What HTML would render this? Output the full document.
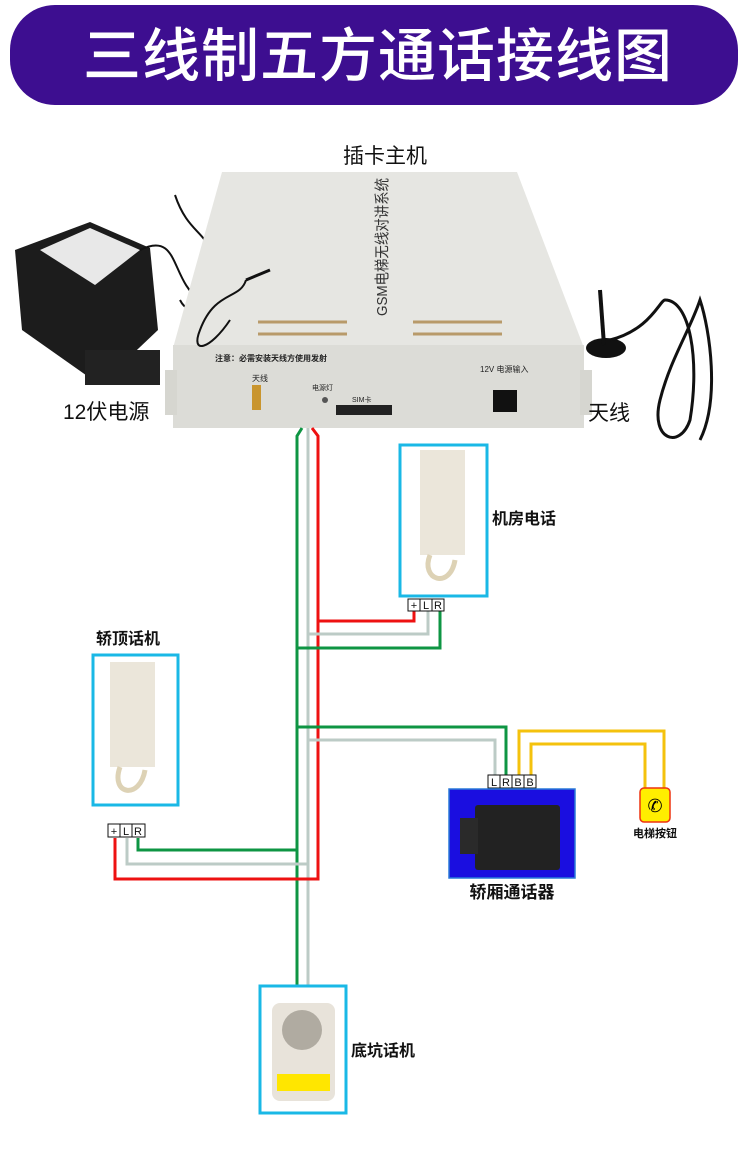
<!DOCTYPE html>
<html><head><meta charset="utf-8"><style>
html,body{margin:0;padding:0;background:#fff;}
svg{display:block;font-family:"Liberation Sans","Noto Sans CJK SC",sans-serif;}
.b{font-weight:bold;}
</style></head><body>
<svg width="750" height="1159" viewBox="0 0 750 1159" xmlns="http://www.w3.org/2000/svg">
<rect x="0" y="0" width="750" height="1159" fill="#fff"/>
<!-- banner -->
<rect x="10" y="5" width="728" height="100" rx="45" fill="#3d0e90"/>
<text x="378" y="76" text-anchor="middle" font-size="58" fill="#fff" font-weight="500" font-family="Noto Sans CJK SC,sans-serif" letter-spacing="1">三线制五方通话接线图</text>

<text x="385" y="163" text-anchor="middle" font-size="21" fill="#111">插卡主机</text>

<!-- power supply -->
<polygon points="15,250 90,222 150,248 158,330 100,385 22,330" fill="#1c1c1c"/>
<polygon points="40,250 90,228 140,250 95,285" fill="#e8e8e8"/>
<rect x="85" y="350" width="75" height="35" fill="#222"/>
<path d="M140,250 C180,230 170,280 200,300 C230,320 260,280 270,270" stroke="#111" stroke-width="2" fill="none"/>
<path d="M175,195 C190,240 215,230 210,270 C205,300 190,320 180,300" stroke="#111" stroke-width="2" fill="none"/>
<text x="63" y="419" font-size="21" fill="#111">12伏电源</text>

<!-- main device -->
<polygon points="222,172 517,172 584,348 173,348" fill="#e6e6e2"/>
<rect x="173" y="345" width="411" height="83" fill="#dcdcd7"/>
<rect x="165" y="370" width="12" height="45" fill="#d6d6d0"/>
<rect x="580" y="370" width="12" height="45" fill="#d6d6d0"/>
<line x1="258" y1="322" x2="347" y2="322" stroke="#b89a6a" stroke-width="3"/>
<line x1="258" y1="334" x2="347" y2="334" stroke="#b89a6a" stroke-width="3"/>
<line x1="413" y1="322" x2="502" y2="322" stroke="#b89a6a" stroke-width="3"/>
<line x1="413" y1="334" x2="502" y2="334" stroke="#b89a6a" stroke-width="3"/>
<text transform="translate(387,316) rotate(-90)" font-size="15" fill="#333" textLength="138" lengthAdjust="spacingAndGlyphs">GSM电梯无线对讲系统</text>
<text x="215" y="361" font-size="8" fill="#222" class="b">注意：必需安装天线方使用发射</text>
<text x="252" y="381" font-size="8" fill="#222">天线</text>
<rect x="252" y="385" width="9" height="25" fill="#c9952e"/>
<text x="312" y="390" font-size="7" fill="#222">电源灯</text>
<circle cx="325" cy="400" r="3" fill="#555"/>
<rect x="336" y="405" width="56" height="10" fill="#222"/>
<text x="352" y="402" font-size="7" fill="#222">SIM卡</text>
<text x="480" y="372" font-size="8" fill="#222">12V 电源输入</text>
<rect x="493" y="390" width="24" height="22" fill="#111"/>
<path d="M246,280 C240,300 215,290 200,330 C190,355 210,350 230,320" stroke="#111" stroke-width="2" fill="none"/>
<path d="M246,280 L270,270" stroke="#111" stroke-width="3"/>

<!-- antenna -->
<ellipse cx="606" cy="348" rx="20" ry="10" fill="#111"/>
<line x1="600" y1="290" x2="604" y2="345" stroke="#111" stroke-width="4"/>
<path d="M610,340 C650,330 660,300 665,300 C690,300 700,360 690,420 C680,450 650,440 660,400 C670,360 690,330 700,300 C710,330 720,400 700,440" stroke="#111" stroke-width="3" fill="none"/>
<text x="588" y="420" font-size="21" fill="#111">天线</text>

<!-- wires -->
<g fill="none" stroke-width="3">
<path d="M302,428 L297,436 L297,1013" stroke="#0e9543"/>
<path d="M308,428 L308,1013" stroke="#bccbc6"/>
<path d="M312,428 L318,436 L318,879 L115,879 L115,838" stroke="#ee1111"/>
<path d="M414,611 L414,621 L318,621" stroke="#ee1111"/>
<path d="M428,611 L428,634 L308,634" stroke="#bccbc6"/>
<path d="M440,611 L440,648 L297,648" stroke="#0e9543"/>
<path d="M138,838 L138,850 L297,850" stroke="#0e9543"/>
<path d="M127,838 L127,864 L308,864" stroke="#bccbc6"/>
<path d="M297,727 L506,727 L506,775" stroke="#0e9543"/>
<path d="M308,740 L495,740 L495,775" stroke="#bccbc6"/>
<path d="M519,775 L519,731 L664,731 L664,788" stroke="#f4c20d"/>
<path d="M531,775 L531,744 L645,744 L645,788" stroke="#f4c20d"/>
</g>

<!-- 机房电话 -->
<rect x="400" y="445" width="87" height="151" fill="#fff" stroke="#1ab8e6" stroke-width="3"/>
<rect x="420" y="450" width="45" height="105" fill="#ebe6da"/>
<path d="M430,555 C420,580 450,590 455,560" stroke="#ddd2b5" stroke-width="5" fill="none"/>
<text x="492" y="524" font-size="16" class="b" fill="#111">机房电话</text>
<g stroke="#111" stroke-width="1" fill="#fff">
<rect x="408" y="599" width="12" height="12"/><rect x="420" y="599" width="12" height="12"/><rect x="432" y="599" width="12" height="12"/>
</g>
<g font-size="11" fill="#111" text-anchor="middle"><text x="414" y="609">+</text><text x="426" y="609">L</text><text x="438" y="609">R</text></g>

<!-- 轿顶话机 -->
<text x="96" y="644" font-size="16" class="b" fill="#111">轿顶话机</text>
<rect x="93" y="655" width="85" height="150" fill="#fff" stroke="#1ab8e6" stroke-width="3"/>
<rect x="110" y="662" width="45" height="105" fill="#ebe6da"/>
<path d="M120,767 C110,795 140,800 145,770" stroke="#ddd2b5" stroke-width="5" fill="none"/>
<g stroke="#111" stroke-width="1" fill="#fff">
<rect x="108" y="824" width="12" height="13"/><rect x="120" y="824" width="12" height="13"/><rect x="132" y="824" width="13" height="13"/>
</g>
<g font-size="11" fill="#111" text-anchor="middle"><text x="114" y="835">+</text><text x="126" y="835">L</text><text x="138" y="835">R</text></g>

<!-- 轿厢通话器 -->
<g stroke="#111" stroke-width="1" fill="#fff">
<rect x="488" y="775" width="12" height="13"/><rect x="500" y="775" width="12" height="13"/><rect x="512" y="775" width="12" height="13"/><rect x="524" y="775" width="12" height="13"/>
</g>
<g font-size="11" fill="#111" text-anchor="middle"><text x="494" y="786">L</text><text x="506" y="786">R</text><text x="518" y="786">B</text><text x="530" y="786">B</text></g>
<rect x="449" y="789" width="126" height="89" fill="#1a0ee0" stroke="#2a7ad8" stroke-width="1.5"/>
<rect x="475" y="805" width="85" height="65" rx="3" fill="#222"/>
<rect x="460" y="818" width="18" height="36" fill="#2a2a2a"/>
<text x="512" y="898" text-anchor="middle" font-size="17" class="b" fill="#111">轿厢通话器</text>

<!-- button -->
<rect x="640" y="788" width="30" height="34" rx="4" fill="#ffee00" stroke="#e31" stroke-width="1.5"/>
<text x="655" y="812" text-anchor="middle" font-size="18" fill="#000">✆</text>
<text x="655" y="837" text-anchor="middle" font-size="11" class="b" fill="#111">电梯按钮</text>

<!-- 底坑话机 -->
<g stroke="#111" stroke-width="1" fill="#fff">
<rect x="290" y="1013" width="12" height="13"/><rect x="302" y="1013" width="12" height="13"/>
</g>
<g font-size="11" fill="#111" text-anchor="middle"><text x="296" y="1024">R</text><text x="308" y="1024">L</text></g>
<rect x="260" y="986" width="86" height="127" fill="#fff" stroke="#1ab8e6" stroke-width="3"/>
<rect x="272" y="1003" width="63" height="98" rx="8" fill="#e8e3da"/>
<circle cx="302" cy="1030" r="20" fill="#8a857c" opacity="0.6"/>
<rect x="277" y="1074" width="53" height="17" fill="#ffe600"/>
<text x="351" y="1056" font-size="16" class="b" fill="#111">底坑话机</text>
</svg>
</body></html>
